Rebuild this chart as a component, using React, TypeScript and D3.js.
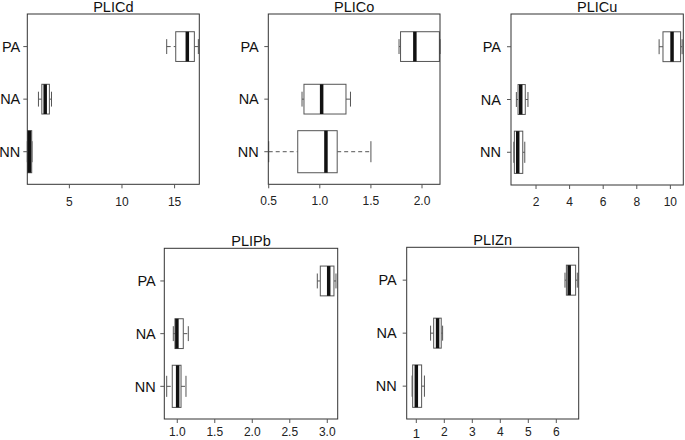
import React from "react";
import * as d3 from "d3";

// Groups (bottom to top on the y axis)
const groups = ["NN", "NA", "PA"];
// sample sizes (varwidth boxes)
const groupSizes = [20, 10, 10];

// five-number summaries per group: [lower whisker, Q1, median, Q3, upper whisker]
const PLICd = [
  [1.0, 1.02, 1.2, 1.42, 1.45],
  [2.06, 2.38, 2.7, 3.1, 3.3],
  [14.25, 15.11, 16.21, 16.88, 17.26],
];
const PLICo = [
  [0.5, 0.784, 1.06, 1.17, 1.5],
  [0.826, 0.845, 1.018, 1.256, 1.3],
  [1.775, 1.79, 1.93, 2.17, 2.176],
];
const PLICu = [
  [0.68, 0.71, 0.91, 1.21, 1.33],
  [0.83, 0.93, 1.09, 1.36, 1.52],
  [9.33, 9.56, 10.1, 10.61, 10.7],
];
const PLIPb = [
  [0.859, 0.933, 1.005, 1.05, 1.116],
  [0.947, 0.969, 0.995, 1.08, 1.147],
  [2.867, 2.907, 3.019, 3.089, 3.116],
];
const PLIZn = [
  [0.85, 0.87, 1.0, 1.19, 1.29],
  [1.51, 1.62, 1.76, 1.89, 1.94],
  [6.31, 6.36, 6.46, 6.69, 6.75],
];

const ticksPLICd = [5, 10, 15];
const ticksPLICo = [0.5, 1.0, 1.5, 2.0];
const ticksPLICu = [2, 4, 6, 8, 10];
const ticksPLIPb = [1.0, 1.5, 2.0, 2.5, 3.0];
const ticksPLIZn = [1, 2, 3, 4, 5, 6];

const panels = [
  { title: "PLICd", stats: PLICd, ticks: ticksPLICd, fmt: "d", domain: [1.0, 17.35], box: [27.3, 199.3, 14, 184.3], labOff: 7, tickLabDy: 22, bigFirst: false },
  { title: "PLICo", stats: PLICo, ticks: ticksPLICo, fmt: ".1f", domain: [0.496, 2.176], box: [268.3, 440, 14, 184.3], labOff: 9.5, tickLabDy: 21, bigFirst: false },
  { title: "PLICu", stats: PLICu, ticks: ticksPLICu, fmt: "d", domain: [0.51, 10.77], box: [511, 683.3, 14, 185], labOff: 10, tickLabDy: 21, bigFirst: false },
  { title: "PLIPb", stats: PLIPb, ticks: ticksPLIPb, fmt: ".1f", domain: [0.827, 3.139], box: [164.3, 337.7, 248.3, 419], labOff: 8.5, tickLabDy: 17, bigFirst: false },
  { title: "PLIZn", stats: PLIZn, ticks: ticksPLIZn, fmt: "d", domain: [0.657, 6.8], box: [406.7, 578.7, 247.3, 419], labOff: 10, tickLabDy: 17, bigFirst: true },
];

const FONT = "'Liberation Sans', Arial, sans-serif";
const NARROW = "'Liberation Sans Narrow', 'Arial Narrow', 'Liberation Sans', sans-serif";

function Panel({ p }: { p: any }) {
  const [x0, x1, y0, y1] = p.box;
  const x = d3.scaleLinear().domain(p.domain).range([x0, x1]);
  const y = d3.scaleLinear().domain([0.38, 3.62]).range([y1, y0]);
  const maxN = d3.max(groupSizes) as number;
  const fmt = d3.format(p.fmt);
  const unit = Math.abs(y(1) - y(0));
  return (
    <g>
      <text x={(x0 + x1) / 2} y={y0 - 2.5} textAnchor="middle" fontFamily={FONT} fontSize={14.5} fill="#111">
        {p.title}
      </text>
      {p.stats.map((s: number[], i: number) => {
        const cy = y(i + 1);
        const hw = (0.8 * Math.sqrt(groupSizes[i] / maxN) * unit) / 2;
        const cap = hw / 2;
        return (
          <g key={i}>
            <line x1={x(s[0])} x2={x(s[1])} y1={cy} y2={cy} stroke="#555" strokeWidth={1} strokeDasharray="4,3" />
            <line x1={x(s[3])} x2={x(s[4])} y1={cy} y2={cy} stroke="#555" strokeWidth={1} strokeDasharray="4,3" />
            <line x1={x(s[0])} x2={x(s[0])} y1={cy - cap} y2={cy + cap} stroke="#555" strokeWidth={1} />
            <line x1={x(s[4])} x2={x(s[4])} y1={cy - cap} y2={cy + cap} stroke="#555" strokeWidth={1} />
            <rect x={x(s[1])} y={cy - hw} width={x(s[3]) - x(s[1])} height={2 * hw} fill="white" stroke="#555" strokeWidth={1} />
            <line x1={x(s[2])} x2={x(s[2])} y1={cy - hw} y2={cy + hw} stroke="#111" strokeWidth={3.5} />
          </g>
        );
      })}
      <rect x={x0} y={y0} width={x1 - x0} height={y1 - y0} fill="none" stroke="#333" strokeWidth={1} />
      {groups.map((g, i) => (
        <g key={g}>
          <line x1={x0 - 4} x2={x0} y1={y(i + 1)} y2={y(i + 1)} stroke="#555" strokeWidth={1} />
          <text x={x0 - p.labOff} y={y(i + 1)} dy="0.36em" textAnchor="end" fontFamily={FONT} fontSize={14.5} fill="#111">
            {g}
          </text>
        </g>
      ))}
      {p.ticks.map((t: number, k: number) => {
        const big = p.bigFirst && k === 0;
        return (
          <g key={t}>
            <line x1={x(t)} x2={x(t)} y1={y1} y2={y1 + 4} stroke="#555" strokeWidth={1} />
            <text x={x(t)} y={y1 + p.tickLabDy + (big ? 1.5 : 0)} textAnchor="middle" fontFamily={big ? FONT : NARROW} fontSize={big ? 13 : 12} fill="#222">
              {fmt(t)}
            </text>
          </g>
        );
      })}
    </g>
  );
}

export default function App() {
  return (
    <svg width={685} height={440} style={{ position: "absolute", left: 0, top: 0, background: "white" }}>
      <rect width={685} height={440} fill="white" />
      {panels.map((p) => (
        <Panel key={p.title} p={p} />
      ))}
    </svg>
  );
}
